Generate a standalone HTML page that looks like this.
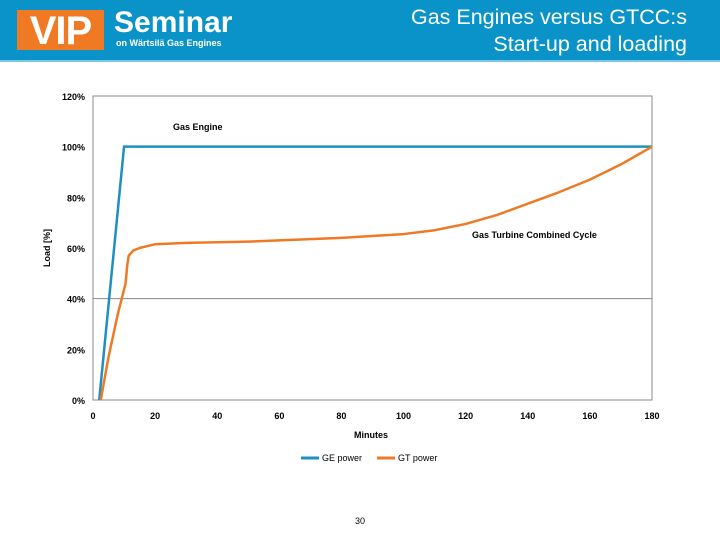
<!DOCTYPE html>
<html><head><meta charset="utf-8"><style>
body{margin:0;width:720px;height:540px;background:#fff;font-family:"Liberation Sans",sans-serif;overflow:hidden;position:relative}
.hdr{position:absolute;left:0;top:0;width:720px;height:60px;background:#0a93c9;border-bottom:2px solid #7cc6e6}
</style></head><body>
<div class="hdr">
 <div style="position:absolute;left:17px;top:10px;width:87px;height:40px;background:#f07a24;color:#fff;font-weight:bold;font-size:40px;line-height:42px;text-align:center;letter-spacing:-1px">VIP</div>
 <div style="position:absolute;left:114px;top:6px;color:#fff;font-weight:bold;font-size:30px">Seminar</div>
 <div style="position:absolute;left:116px;top:38px;color:#fff;font-weight:bold;font-size:9px">on Wärtsilä Gas Engines</div>
 <div style="position:absolute;right:33px;top:4px;color:#fff;font-size:21.5px;line-height:27px;text-align:right">Gas Engines versus GTCC:s<br>Start-up and loading</div>
</div>
<svg id="c" width="720" height="540" style="position:absolute;left:0;top:0"></svg>
<script>
const yTicks=[0,20,40,60,80,100,120];
const xTicks=[0,20,40,60,80,100,120,140,160,180];
const geMin=[2,10,180];
const geLoad=[0,100,100];
const gtMin=[2.5,5,8,10.5,11,11.5,13,15,20,30,50,60,80,100,110,120,130,140,150,160,170,180];
const gtLoad=[0,17,34,46,53,57,59,60,61.5,62,62.5,63,64,65.5,67,69.5,73,77.5,82,87,93,100];
const X=m=>93+m*(652-93)/180, Y=v=>400-v*(400-96)/120;
const s=document.getElementById('c'),NS='http://www.w3.org/2000/svg';
function el(t,a,txt){const e=document.createElementNS(NS,t);for(const k in a)e.setAttribute(k,a[k]);if(txt!==undefined)e.textContent=txt;s.appendChild(e);return e;}
let e=el('rect',{x:93,y:96,width:559,height:304,fill:'none',stroke:'#888'});


e=el('line',{x1:93,x2:652,y1:Y(40),y2:Y(40),stroke:'#888'});


yTicks.forEach(v=>{e=el('text',{x:85,y:Y(v)+4,'text-anchor':'end','font-size':9,'font-weight':'bold'},v+'%');

});
xTicks.forEach(v=>{e=el('text',{x:X(v),y:419,'text-anchor':'middle','font-size':9,'font-weight':'bold'},v);

});
e=el('text',{x:371,y:438,'text-anchor':'middle','font-size':9,'font-weight':'bold'},'Minutes');


e=el('text',{x:0,y:0,'text-anchor':'middle','font-size':9,'font-weight':'bold',transform:'translate(50,248) rotate(-90)'},'Load [%]');


const pts=(a,b)=>a.map((m,i)=>X(m)+','+Y(b[i])).join(' ');
e=el('polyline',{points:pts(geMin,geLoad),fill:'none',stroke:'#1f8fc0','stroke-width':2.5});


e=el('polyline',{points:pts(gtMin,gtLoad),fill:'none',stroke:'#ee7a26','stroke-width':2.5,'stroke-linejoin':'round'});


e=el('text',{x:173,y:130,'font-size':9,'font-weight':'bold'},'Gas Engine');


e=el('text',{x:472,y:238,'font-size':9,'font-weight':'bold'},'Gas Turbine Combined Cycle');


e=el('line',{x1:301,x2:319,y1:458,y2:458,stroke:'#1f8fc0','stroke-width':3});


e=el('text',{x:322,y:461,'font-size':9},'GE power');


e=el('line',{x1:377,x2:395,y1:458,y2:458,stroke:'#ee7a26','stroke-width':3});


e=el('text',{x:398,y:461,'font-size':9},'GT power');


e=el('text',{x:360,y:524,'text-anchor':'middle','font-size':9},'30');


</script>
</body></html>
